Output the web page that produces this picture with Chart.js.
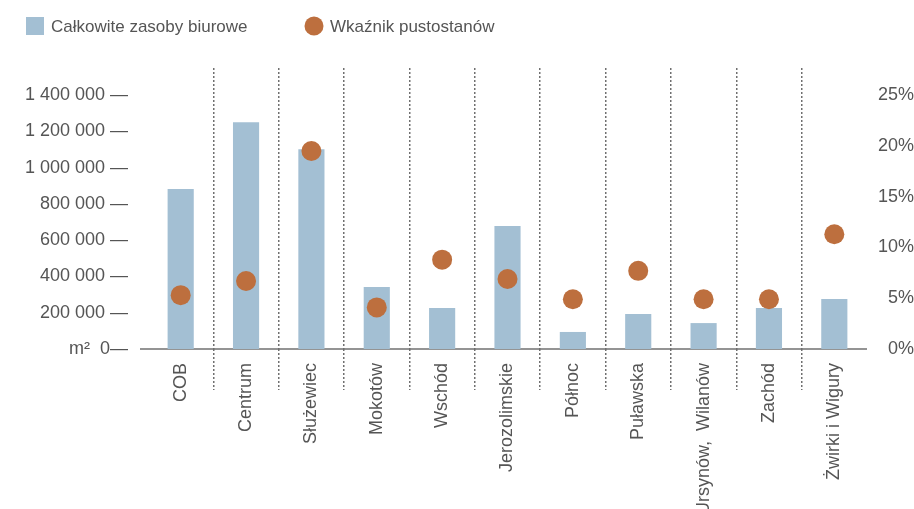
<!DOCTYPE html>
<html>
<head>
<meta charset="utf-8">
<script src="https://cdn.jsdelivr.net/npm/chart.js@4/dist/chart.umd.min.js"></script>
<style>
  html, body { margin: 0; padding: 0; background: #ffffff; }
  #wrap { width: 914px; height: 509px; position: relative; }
</style>
</head>
<body>
<div id="wrap"><canvas id="c" width="914" height="509"></canvas></div>
<script>
// ---- data ----
const categories = ["COB", "Centrum", "Służewiec", "Mokotów", "Wschód", "Jerozolimskie",
                    "Północ", "Puławska", "Ursynów,  Wilanów", "Zachód", "Żwirki i Wigury"];
const officeStock = [882000, 1251000, 1102000, 342000, 226000, 678000,
                     94000, 193000, 143000, 226000, 276000];
const vacancyRate = [5.3, 6.7, 19.5, 4.1, 8.8, 6.9, 4.9, 7.7, 4.9, 4.9, 11.3];
const leftTicks = [0, 200000, 400000, 600000, 800000, 1000000, 1200000, 1400000];
const rightTicks = [0, 5, 10, 15, 20, 25];
const seriesNames = ["Całkowite zasoby biurowe", "Wkaźnik pustostanów"];

const BAR_COLOR = '#a3bfd3';
const DOT_COLOR = '#bd6f3e';
const TEXT_COLOR = '#555555';
const LINE_COLOR = '#707070';
const FONT = "'Liberation Sans', Arial, sans-serif";

function fmtThousands(v) {
  return String(v).replace(/\B(?=(\d{3})+(?!\d))/g, ' ');
}

const extrasPlugin = {
  id: 'extras',
  beforeDatasetsDraw(chart) {
    const { ctx, chartArea, scales } = chart;
    const y0 = scales.y.getPixelForValue(0);
    ctx.save();
    ctx.strokeStyle = LINE_COLOR;
    ctx.lineWidth = 1.5;
    ctx.beginPath();
    ctx.moveTo(chartArea.left - 8, y0);
    ctx.lineTo(chartArea.right, y0);
    ctx.stroke();
    ctx.restore();
  },
  afterDraw(chart) {
    // legend
    const { ctx } = chart;
    const bars = chart.data.datasets.find(d => d.type === 'bar');
    const dots = chart.data.datasets.find(d => d.type === 'line');
    ctx.save();
    ctx.font = '17px ' + FONT;
    ctx.textBaseline = 'middle';
    ctx.fillStyle = bars.backgroundColor;
    ctx.fillRect(26, 17, 18, 18);
    ctx.fillStyle = TEXT_COLOR;
    ctx.fillText(bars.label, 51, 27);
    ctx.fillStyle = dots.pointBackgroundColor;
    ctx.beginPath();
    ctx.arc(314, 26, 9.5, 0, Math.PI * 2);
    ctx.fill();
    ctx.fillStyle = TEXT_COLOR;
    ctx.fillText(dots.label, 330, 27);
    ctx.restore();
  }
};

const sepColor = (c) => (c.type !== 'tick' || c.index === 0) ? 'rgba(0,0,0,0)' : LINE_COLOR;

new Chart(document.getElementById('c'), {
  type: 'bar',
  data: {
    labels: categories,
    datasets: [
      {
        type: 'line',
        label: seriesNames[1],
        data: vacancyRate,
        yAxisID: 'y1',
        showLine: false,
        pointRadius: 10,
        pointHoverRadius: 10,
        pointBackgroundColor: DOT_COLOR,
        pointBorderWidth: 0,
        borderColor: DOT_COLOR,
        order: 0
      },
      {
        type: 'bar',
        label: seriesNames[0],
        data: officeStock,
        yAxisID: 'y',
        backgroundColor: BAR_COLOR,
        borderWidth: 0,
        categoryPercentage: 1,
        barPercentage: 0.4,
        order: 1
      }
    ]
  },
  options: {
    responsive: false,
    animation: false,
    layout: { padding: { top: 68, left: 0, right: 0, bottom: 0 } },
    plugins: { legend: { display: false }, tooltip: { enabled: false } },
    scales: {
      x: {
        offset: true,
        grid: {
          offset: true,
          drawOnChartArea: true,
          drawTicks: true,
          tickLength: 41,
          lineWidth: 1.5,
          color: sepColor,
          tickColor: sepColor,
          tickBorderDash: [2, 2]
        },
        border: { display: false, dash: [2, 2] },
        ticks: {
          autoSkip: false,
          maxRotation: 90,
          minRotation: 90,
          padding: -27,
          color: TEXT_COLOR,
          font: { size: 18, family: FONT }
        },
        afterFit(scale) { scale.height = 160; }
      },
      y: {
        position: 'left',
        min: 0,
        max: 1550000,
        grid: { display: false, drawTicks: false },
        border: { display: false },
        afterBuildTicks(scale) { scale.ticks = leftTicks.map(v => ({ value: v })); },
        ticks: {
          padding: 20,
          color: TEXT_COLOR,
          font: { size: 18, family: FONT },
          callback: (v) => v === 0 ? 'm²  0—' : fmtThousands(v) + ' —'
        },
        afterFit(scale) { scale.width = 148; }
      },
      y1: {
        position: 'right',
        min: 0,
        max: 27.68,
        grid: { display: false, drawTicks: false },
        border: { display: false },
        afterBuildTicks(scale) { scale.ticks = rightTicks.map(v => ({ value: v })); },
        ticks: {
          crossAlign: 'far',
          padding: 0,
          color: TEXT_COLOR,
          font: { size: 18, family: FONT },
          callback: (v) => v + '%'
        },
        afterFit(scale) { scale.width = 47; }
      }
    }
  },
  plugins: [extrasPlugin]
});
</script>
</body>
</html>
